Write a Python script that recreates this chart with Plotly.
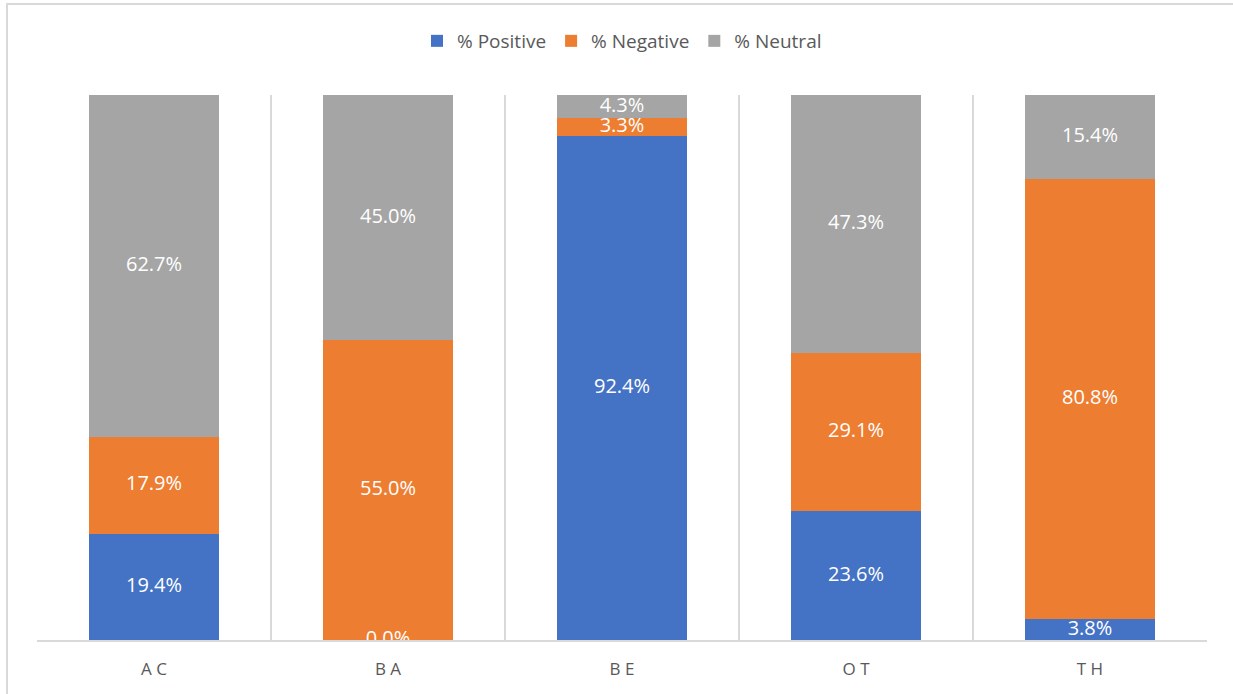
import plotly.graph_objects as go

# Sentiment share per category (percent)
categories = ["A C", "B A", "B E", "O T", "T H"]
positive = [19.4, 0.0, 92.4, 23.6, 3.8]
negative = [17.9, 55.0, 3.3, 29.1, 80.8]
neutral = [62.7, 45.0, 4.3, 47.3, 15.4]

series = [
    ("% Positive", positive, "#4472C4"),
    ("% Negative", negative, "#ED7D31"),
    ("% Neutral", neutral, "#A5A5A5"),
]

W, H = 1233, 694
L, R, T, B = 37, 26, 95, 54
plot_h = H - T - B
plot_w = W - L - R

FONT = "Open Sans"
TEXT_GREY = "#595959"
GRID = "#D9D9D9"

fig = go.Figure()

# Stacked bars
for name, vals, color in series:
    fig.add_trace(go.Bar(
        x=categories, y=vals, name=name,
        marker=dict(color=color, line=dict(width=0)),
        hoverinfo="x+y+name",
    ))

# Value labels centred in each segment (clipped at the plot edges)
base = [0.0] * len(categories)
for name, vals, color in series:
    mids = [b + v / 2 for b, v in zip(base, vals)]
    fig.add_trace(go.Scatter(
        x=categories, y=mids, mode="text",
        text=[f"{v:.1f}%" for v in vals],
        textposition="middle center",
        textfont=dict(family=FONT, size=20, color="white"),
        cliponaxis=True, showlegend=False, hoverinfo="skip",
    ))
    base = [b + v for b, v in zip(base, vals)]

# Outer chart frame (left and top edges visible)
def px_x(px):
    return (px - L) / plot_w

def px_y(py):
    return (H - B - py) / plot_h

fig.add_shape(type="rect", xref="paper", yref="paper",
              x0=px_x(7), x1=px_x(W + 20), y0=px_y(H + 20), y1=px_y(4),
              line=dict(color=GRID, width=2), fillcolor="rgba(0,0,0,0)", layer="below")

fig.update_layout(
    width=W, height=H,
    margin=dict(l=L, r=R, t=T, b=B, autoexpand=False),
    paper_bgcolor="white", plot_bgcolor="white",
    barmode="stack", bargap=0.444,
    font=dict(family=FONT, color=TEXT_GREY),
    legend=dict(
        orientation="h", x=0.5, xanchor="center", y=px_y(41), yanchor="middle",
        traceorder="normal",
        font=dict(family=FONT, size=19, color=TEXT_GREY),
        itemclick=False, itemdoubleclick=False,
        bgcolor="rgba(0,0,0,0)",
    ),
    xaxis=dict(
        type="category", tickson="boundaries",
        showgrid=True, gridcolor=GRID, gridwidth=1.5,
        showline=True, linecolor=GRID, linewidth=1.5,
        ticks="", ticklen=0, ticklabelstandoff=13,
        tickfont=dict(family=FONT, size=17, color=TEXT_GREY),
        range=[-0.5, 4.5],
    ),
    yaxis=dict(
        range=[0, 100], visible=False, showgrid=False, zeroline=False, fixedrange=True,
    ),
    showlegend=True,
)

fig.write_html("out.html")
